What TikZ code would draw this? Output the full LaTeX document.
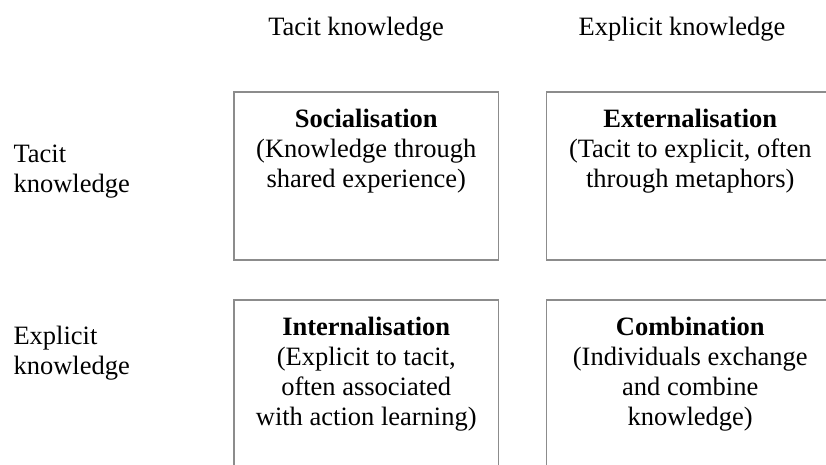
\documentclass[tikz,border=0pt]{standalone}
\usepackage{fontspec}
\setmainfont{Liberation Serif}
\definecolor{edge}{RGB}{140,140,140}
\begin{document}
\begin{tikzpicture}[x=1pt,y=-1pt,
  txt/.style={font=\fontsize{26.5}{30}\selectfont, inner sep=0pt, outer sep=0pt},
  cell/.style={draw=edge, line width=1.8pt, rectangle, inner sep=0pt, outer sep=0pt,
    minimum width=#1, minimum height=168pt},
  celltext/.style={txt, align=center, anchor=north},
  rowlabel/.style={txt, align=left, anchor=north west},
  collabel/.style={txt, anchor=base}]
  \clip (0,0) rectangle (826,464);
  \useasboundingbox (0,0) rectangle (826,464);

  % column headings
  \node[collabel] (coltacit) at (356,35) {Tacit knowledge};
  \node[collabel] (colexplicit) at (682,35) {Explicit knowledge};

  % row headings
  \node[rowlabel] (rowtacit) at (13.5,145) {Tacit\\knowledge};
  \node[rowlabel] (rowexplicit) at (13.5,326) {Explicit\\knowledge};

  % the four quadrants
  \node[cell=264.5pt] (soc) at (366.25,175.7) {};
  \node[cell=287.5pt] (ext) at (690.25,175.7) {};
  \node[cell=264.5pt] (int) at (366.25,384) {};
  \node[cell=287.5pt] (com) at (690.25,384) {};

  \node[celltext] (soctxt) at ([yshift=-17.3pt]soc.north)
    {\textbf{Socialisation}\\(Knowledge through\\shared experience)};
  \node[celltext] (exttxt) at ([yshift=-17.3pt]ext.north)
    {\textbf{Externalisation}\\(Tacit to explicit, often\\through metaphors)};
  \node[celltext] (inttxt) at ([yshift=-17.3pt]int.north)
    {\textbf{Internalisation}\\(Explicit to tacit,\\often associated\\with action learning)};
  \node[celltext] (comtxt) at ([yshift=-17.3pt]com.north)
    {\textbf{Combination}\\(Individuals exchange\\and combine\\knowledge)};
\end{tikzpicture}
\end{document}
